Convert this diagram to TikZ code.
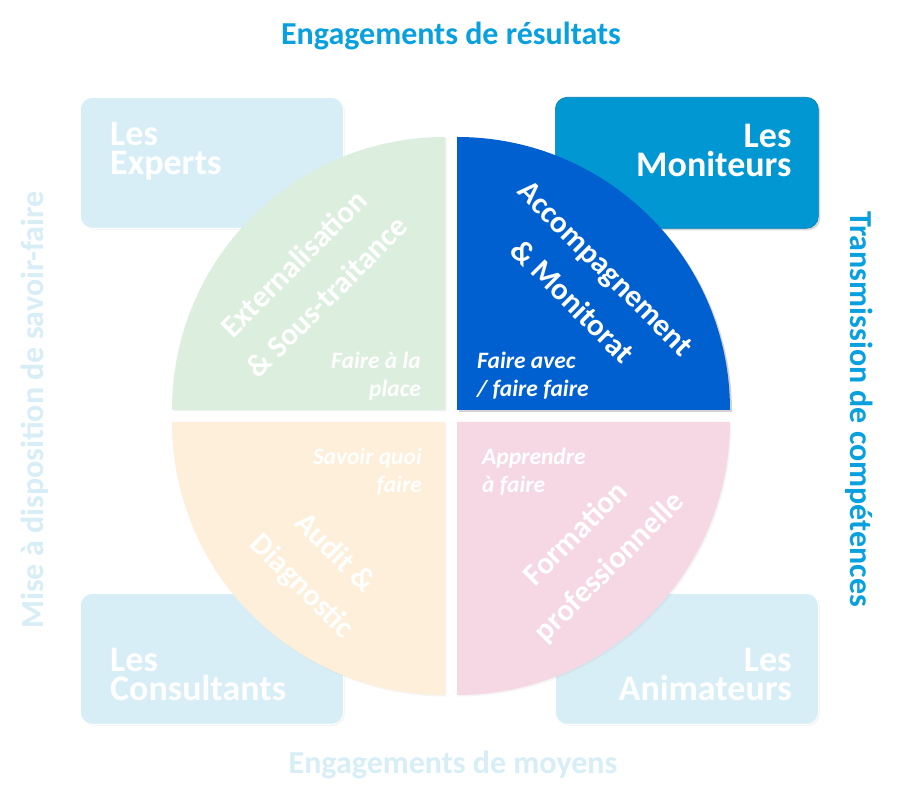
\documentclass[tikz,border=0pt]{standalone}
\usepackage{fontspec}
\setmainfont{Carlito}
\usetikzlibrary{shadows}
\definecolor{lightbox}{RGB}{215,238,247}
\definecolor{darkbox}{RGB}{0,151,211}
\definecolor{titleblue}{RGB}{8,160,222}
\definecolor{qgreen}{RGB}{220,238,222}
\definecolor{qblue}{RGB}{0,96,208}
\definecolor{qorange}{RGB}{253,239,217}
\definecolor{qpink}{RGB}{245,216,227}
\tikzset{
  boxbase/.style={rectangle, rounded corners=12pt, minimum width=263pt, minimum height=131pt, inner sep=0pt, anchor=north west},
  boxlight/.style={boxbase, fill=lightbox, draw=white, line width=0.8pt, drop shadow={shadow xshift=1.5pt, shadow yshift=-1.5pt, opacity=0.08}},
  boxdark/.style={boxbase, fill=darkbox, draw=darkbox!85!black, line width=0.6pt, drop shadow={shadow xshift=2pt, shadow yshift=-2pt, opacity=0.3}},
  boxtext/.style={text=white, inner sep=0pt, font=\bfseries\fontsize{36}{29}\selectfont},
  qtext/.style={text=white, inner sep=0pt, align=center, font=\bfseries\fontsize{31}{47}\selectfont},
  qnote/.style={text=white, inner sep=0pt, font=\bfseries\itshape\fontsize{23.5}{28}\selectfont},
  titletext/.style={inner sep=0pt, font=\bfseries\fontsize{32}{34}\selectfont},
}
\begin{document}
\begin{tikzpicture}[x=1pt,y=1pt]
\useasboundingbox (0,0) rectangle (900,800);
\fill[white] (0,0) rectangle (900,800);

% boxes
\node[boxlight] (experts) at (80,703) {};
\node[boxdark] (moniteurs) at (555,703) {};
\node[boxlight] (consultants) at (80,207) {};
\node[boxlight] (animateurs) at (555,207) {};

\node[boxtext, align=left, anchor=north west] (expertsT) at ([xshift=30pt,yshift=-25pt]experts.north west) {Les\\Experts};
\node[boxtext, align=right, anchor=north east] (moniteursT) at ([xshift=-27pt,yshift=-27pt]moniteurs.north east) {Les\\Moniteurs};
\node[boxtext, align=left, anchor=south west] (consultantsT) at ([xshift=30pt,yshift=24pt]consultants.south west) {Les\\Consultants};
\node[boxtext, align=right, anchor=south east] (animateursT) at ([xshift=-27pt,yshift=24pt]animateurs.south east) {Les\\Animateurs};

% quadrants
\fill[qgreen, drop shadow={shadow xshift=1.5pt, shadow yshift=-1.5pt, opacity=0.1}] (445,390) -- (172,390) arc[start angle=180, end angle=90, radius=273] -- cycle;
\fill[qblue, drop shadow={shadow xshift=2pt, shadow yshift=-2pt, opacity=0.35}] (457,390) -- (457,663) arc[start angle=90, end angle=0, radius=273] -- cycle;
\fill[qorange, drop shadow={shadow xshift=1.5pt, shadow yshift=-1.5pt, opacity=0.08}] (445,378) -- (172,378) arc[start angle=180, end angle=270, radius=273] -- cycle;
\fill[qpink, drop shadow={shadow xshift=1.5pt, shadow yshift=-1.5pt, opacity=0.08}] (457,378) -- (730,378) arc[start angle=0, end angle=-90, radius=273] -- cycle;

% quadrant texts
\node[qtext, rotate=45] (ext) at (310,520) {Externalisation\\\& Sous-traitance};
\node[qtext, rotate=-45] (acc) at (589,515) {Accompagnement\\\& Monitorat};
\node[qtext, rotate=-45] (aud) at (318,230) {Audit \&\\Diagnostic};
\node[qtext, rotate=45] (form) at (593,249) {Formation\\professionnelle};

\node[qnote, align=right, anchor=north east] (n1) at (421,448) {Faire à la\\place};
\node[qnote, align=left, anchor=north west] (n2) at (477,448) {Faire avec\\/ faire faire};
\node[qnote, align=right, anchor=north east] (n3) at (422,352) {Savoir quoi\\faire};
\node[qnote, align=left, anchor=north west] (n4) at (482,352) {Apprendre\\à faire};

% titles
\node[titletext, text=titleblue] (tTop) at (451,764) {Engagements de résultats};
\node[titletext, text=lightbox] (tBottom) at (453,35) {Engagements de moyens};
\node[titletext, text=titleblue, rotate=-90] (tRight) at (859,391) {Transmission de compétences};
\node[titletext, text=lightbox, rotate=90] (tLeft) at (35,390) {Mise à disposition de savoir-faire};
\end{tikzpicture}
\end{document}
